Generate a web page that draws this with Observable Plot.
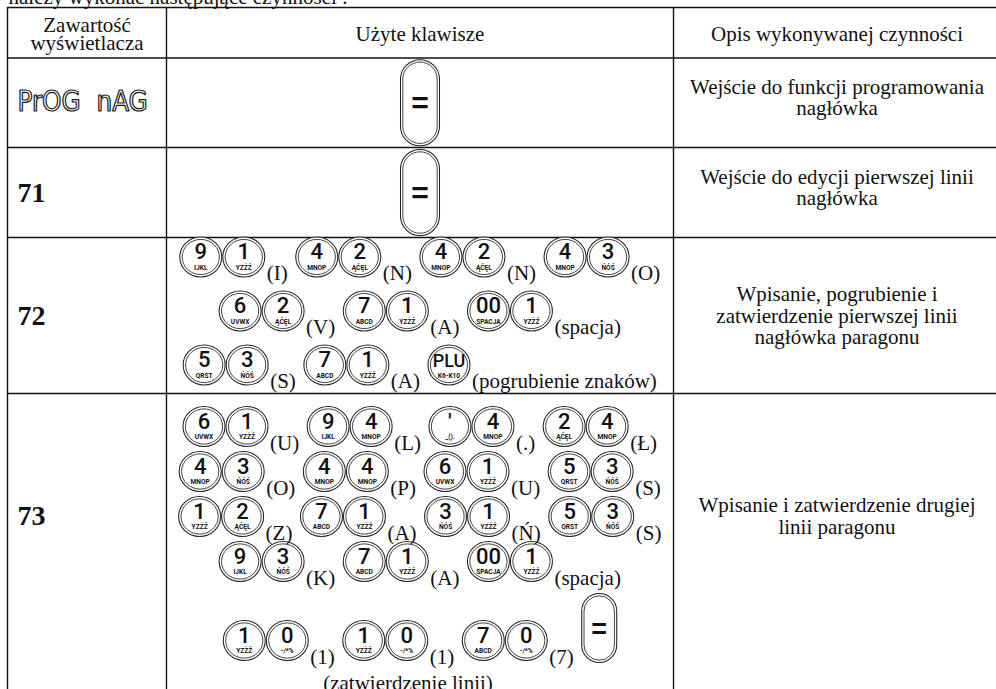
<!DOCTYPE html>
<html>
<head>
<meta charset="utf-8">
<script src="https://cdn.jsdelivr.net/npm/d3@7"></script>
<script src="https://cdn.jsdelivr.net/npm/@observablehq/plot@0.6"></script>
<style>
  html, body { margin: 0; padding: 0; background: #fff; overflow: hidden; }
  svg text { white-space: pre; }
</style>
</head>
<body>
<div id="chart"></div>
<script>
// ---------------- DATA ----------------
const introText = "należy wykonać następujące czynności :";
const headers = ["Zawartość\nwyświetlacza", "Użyte klawisze", "Opis wykonywanej czynności"];
const displays = ["PrOG  nAG", "71", "72", "73"];
const descriptions = [
  "Wejście do funkcji programowania\nnagłówka",
  "Wejście do edycji pierwszej linii\nnagłówka",
  "Wpisanie, pogrubienie i\nzatwierdzenie pierwszej linii\nnagłówka paragonu",
  "Wpisanie i zatwierdzenie drugiej\nlinii paragonu"
];
// small letters printed under the main legend of each key
const keyLetters = {
  "0": "-/*%", "1": "YZŻŹ", "2": "ĄĆĘŁ", "3": "ŃÓŚ", "4": "MNOP", "5": "QRST",
  "6": "UVWX", "7": "ABCD", "9": "IJKL", "00": "SPACJA", "PLU": "K6-K10", "'": "_()."
};
// each row: lines; each line: groups [keys, label]
const row1Keys = [[[["="], ""]]];
const row2Keys = [[[["="], ""]]];
const row3Keys = [
  [[["9", "1"], "(I)"], [["4", "2"], "(N)"], [["4", "2"], "(N)"], [["4", "3"], "(O)"]],
  [[["6", "2"], "(V)"], [["7", "1"], "(A)"], [["00", "1"], "(spacja)"]],
  [[["5", "3"], "(S)"], [["7", "1"], "(A)"], [["PLU"], "(pogrubienie znaków)"]]
];
const row4Keys = [
  [[["6", "1"], "(U)"], [["9", "4"], "(L)"], [["'", "4"], "(.)"], [["2", "4"], "(Ł)"]],
  [[["4", "3"], "(O)"], [["4", "4"], "(P)"], [["6", "1"], "(U)"], [["5", "3"], "(S)"]],
  [[["1", "2"], "(Z)"], [["7", "1"], "(A)"], [["3", "1"], "(Ń)"], [["5", "3"], "(S)"]],
  [[["9", "3"], "(K)"], [["7", "1"], "(A)"], [["00", "1"], "(spacja)"]],
  [[["1", "0"], "(1)"], [["1", "0"], "(1)"], [["7", "0"], "(7)"], [["="], ""]]
];
const row4Note = "(zatwierdzenie linii)";
const keyRows = [row1Keys, row2Keys, row3Keys, row4Keys];

// ---------------- LAYOUT ----------------
const W = 996, H = 689;
const colX = [7, 166, 673, 1000];
const rowY = [7, 57.5, 147, 237, 393];
const lastRowMid = 515;
const rowMid = [0, 1, 2].map(i => (rowY[i + 1] + rowY[i + 2]) / 2).concat([lastRowMid]);
const headerMid = (rowY[0] + rowY[1]) / 2;
const colMid = [0, 1, 2].map(i => (colX[i] + colX[i + 1]) / 2);

const SERIF = "'Liberation Serif', 'Times New Roman', serif";
const KEYFONT = "Roboto, 'Liberation Sans', sans-serif";
const LABEL_SIZE = 21;
const TEXT_SIZE = 21;

const cv = document.createElement("canvas").getContext("2d");
function textWidth(s, size, family) { cv.font = `${size}px ${family}`; return cv.measureText(s).width; }

const KEY_W = 42, KEY_STEP = 43, LABEL_GAP = 2, GROUP_GAP = 8;
const TALL_BIG = {w: 39, h: 86}, TALL_SMALL = {w: 35, h: 69};

const roundKeys = [], tallBig = [], tallSmall = [], labels = [];

function lineY(r, i) {
  if (r < 2) return rowMid[r];
  if (r === 2) return rowY[3] + 19.5 + i * 54;
  return rowY[4] + 33 + i * 45 + (i === 4 ? 34 : 0);
}

keyRows.forEach((lines, r) => {
  lines.forEach((groups, li) => {
    const y = lineY(r, li);
    const big = r < 2;
    const gw = groups.map(([keys, label]) => {
      if (keys[0] === "=") return big ? TALL_BIG.w : TALL_SMALL.w;
      let w = keys.length * KEY_W + (keys.length - 1) * (KEY_STEP - KEY_W);
      if (label) w += LABEL_GAP + textWidth(label, LABEL_SIZE, SERIF);
      return w;
    });
    const total = d3.sum(gw) + GROUP_GAP * (groups.length - 1);
    let x = colMid[1] - total / 2;
    groups.forEach(([keys, label], gi) => {
      if (keys[0] === "=") {
        const s = big ? TALL_BIG : TALL_SMALL;
        (big ? tallBig : tallSmall).push({x: x + s.w / 2, y: big ? y : y - 12.5});
      } else {
        keys.forEach((k, ki) => {
          roundKeys.push({x: x + KEY_W / 2 + ki * KEY_STEP, y, main: k, sub: keyLetters[k]});
        });
        if (label) {
          const lx = x + keys.length * KEY_W + (keys.length - 1) * (KEY_STEP - KEY_W) + LABEL_GAP;
          labels.push({x: lx, y: y + 23, text: label});
        }
      }
      x += gw[gi] + GROUP_GAP;
    });
  });
});

// custom symbols
function ellipseSym(rx, ry) {
  const k = 0.5523;
  return {draw(c) {
    c.moveTo(rx, 0);
    c.bezierCurveTo(rx, ry * k, rx * k, ry, 0, ry);
    c.bezierCurveTo(-rx * k, ry, -rx, ry * k, -rx, 0);
    c.bezierCurveTo(-rx, -ry * k, -rx * k, -ry, 0, -ry);
    c.bezierCurveTo(rx * k, -ry, rx, -ry * k, rx, 0);
    c.closePath();
  }};
}
function stadiumSym(w, h) {
  const r = w / 2, s = h / 2 - r;
  return {draw(c) {
    c.moveTo(r, -s);
    c.lineTo(r, s);
    c.arc(0, s, r, 0, Math.PI);
    c.lineTo(-r, -s);
    c.arc(0, -s, r, Math.PI, 2 * Math.PI);
    c.closePath();
  }};
}

const INK = "#111";
const RING = "#222";
const plainKeys = roundKeys.filter(d => d.main !== "PLU");
const pluKeys = roundKeys.filter(d => d.main === "PLU");

const chart = Plot.plot({
  width: W,
  height: H,
  margin: 0,
  x: {domain: [0, W], range: [0, W], axis: null},
  y: {domain: [0, H], range: [0, H], axis: null},
  style: {background: "white", overflow: "hidden"},
  marks: [
    // intro line (cut by the top edge)
    Plot.text([introText], {x: colX[0] + 1, y: rowY[0] - 3.5, text: d => d, textAnchor: "start", lineAnchor: "bottom",
      fontFamily: SERIF, fontSize: TEXT_SIZE, fill: INK}),
    // grid
    Plot.ruleY(rowY, {y: d => d, x1: colX[0], x2: W, stroke: INK, strokeWidth: 1.4}),
    Plot.ruleX(colX.slice(0, 3), {x: d => d, y1: rowY[0], y2: H, stroke: INK, strokeWidth: 1.4}),
    // headers
    Plot.text(headers, {x: (d, i) => colMid[i], y: headerMid + 2, text: d => d, lineAnchor: "middle", lineHeight: 0.86,
      fontFamily: SERIF, fontSize: TEXT_SIZE, fill: INK}),
    // display column
    Plot.text(displays.slice(0, 1), {x: colX[0] + 10, y: rowMid[0] - 1, text: d => d, textAnchor: "start", lineAnchor: "middle",
      fontFamily: "'Liberation Sans Narrow', 'DejaVu Sans Condensed', 'Liberation Sans', sans-serif", fontSize: 27.5,
      fill: "none", stroke: "#1a1a1a", strokeWidth: 1.2}),
    Plot.text(displays.slice(1), {x: colX[0] + 10, y: (d, i) => rowMid[i + 1] + 9, text: d => d, textAnchor: "start", lineAnchor: "bottom",
      fontFamily: SERIF, fontWeight: "bold", fontSize: 28, fill: INK}),
    // descriptions
    Plot.text(descriptions, {x: colMid[2], y: (d, i) => i < 2 ? rowMid[i] - 5 : rowMid[i] + 0.5, text: d => d,
      lineAnchor: "middle", lineHeight: 1.02, fontFamily: SERIF, fontSize: TEXT_SIZE, fill: INK}),
    // round keys
    Plot.dot(roundKeys, {x: "x", y: "y", r: 5, symbol: ellipseSym(21, 20), fill: "white", stroke: RING, strokeWidth: 1.05}),
    Plot.dot(roundKeys, {x: "x", y: "y", r: 5, symbol: ellipseSym(18.6, 17.6), fill: "none", stroke: RING, strokeWidth: 0.85}),
    Plot.text(plainKeys, {x: "x", y: d => d.y + 2, text: "main", lineAnchor: "bottom",
      fontFamily: KEYFONT, fontWeight: 500, fontSize: 22, fill: INK}),
    Plot.text(pluKeys, {x: "x", y: d => d.y + 1.5, text: "main", lineAnchor: "bottom",
      fontFamily: KEYFONT, fontWeight: 500, fontSize: 18, fill: INK}),
    Plot.text(roundKeys, {x: "x", y: d => d.y + 12.5, text: "sub", lineAnchor: "bottom",
      fontFamily: KEYFONT, fontWeight: 700, fontSize: 6.6, fill: INK}),
    // tall "=" keys
    Plot.dot(tallBig, {x: "x", y: "y", r: 5, symbol: stadiumSym(TALL_BIG.w, TALL_BIG.h), fill: "white", stroke: RING, strokeWidth: 1.05}),
    Plot.dot(tallBig, {x: "x", y: "y", r: 5, symbol: stadiumSym(TALL_BIG.w - 4.6, TALL_BIG.h - 4.6), fill: "none", stroke: RING, strokeWidth: 0.85}),
    Plot.text(tallBig, {x: "x", y: d => d.y + 1, text: () => "=", lineAnchor: "middle",
      fontFamily: "'Liberation Sans', sans-serif", fontWeight: "bold", fontSize: 30, fill: INK}),
    Plot.dot(tallSmall, {x: "x", y: "y", r: 5, symbol: stadiumSym(TALL_SMALL.w, TALL_SMALL.h), fill: "white", stroke: RING, strokeWidth: 1.05}),
    Plot.dot(tallSmall, {x: "x", y: "y", r: 5, symbol: stadiumSym(TALL_SMALL.w - 4.6, TALL_SMALL.h - 4.6), fill: "none", stroke: RING, strokeWidth: 0.85}),
    Plot.text(tallSmall, {x: "x", y: d => d.y + 1, text: () => "=", lineAnchor: "middle",
      fontFamily: "'Liberation Sans', sans-serif", fontWeight: "bold", fontSize: 27, fill: INK}),
    // key-sequence labels
    Plot.text(labels, {x: "x", y: "y", text: "text", textAnchor: "start", lineAnchor: "bottom",
      fontFamily: SERIF, fontSize: LABEL_SIZE, fill: INK}),
    Plot.text([row4Note], {x: colMid[1] - 12, y: H, text: d => d, lineAnchor: "bottom",
      fontFamily: SERIF, fontSize: LABEL_SIZE, fill: INK})
  ]
});
document.getElementById("chart").appendChild(chart);
</script>
</body>
</html>
